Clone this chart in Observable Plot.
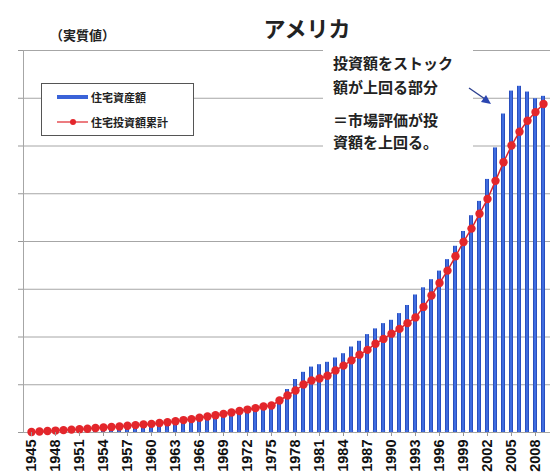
<!DOCTYPE html>
<html><head><meta charset="utf-8">
<script src="https://cdn.jsdelivr.net/npm/d3@7"></script>
<script src="https://cdn.jsdelivr.net/npm/@observablehq/plot@0.6"></script>
<style>
body{margin:0;background:#fff;}
#wrap{position:relative;width:551px;height:476px;font-family:"Noto Sans CJK JP","Noto Sans",sans-serif;color:#222;}
#wrap svg.plot{position:absolute;left:0;top:0;}
.ov{position:absolute;white-space:nowrap;line-height:20px;}
#title{left:0;width:614px;text-align:center;top:17px;font-size:22px;font-weight:700;}
#unit{left:50px;top:25px;font-size:13px;font-weight:700;}
#legend{left:41px;top:83px;width:153px;height:53px;border:1px solid #555;background:#fff;box-sizing:border-box;}
.lg{position:absolute;left:49px;font-size:11px;font-weight:700;line-height:14px;}
#note{left:323px;top:48px;width:150px;height:110px;background:#fff;}
.nl{position:absolute;left:10px;font-size:15px;font-weight:700;line-height:20px;}
</style></head><body>
<div id="wrap"></div>
<script>
const years = [1945,1946,1947,1948,1949,1950,1951,1952,1953,1954,1955,1956,1957,1958,1959,1960,1961,1962,1963,1964,1965,1966,1967,1968,1969,1970,1971,1972,1973,1974,1975,1976,1977,1978,1979,1980,1981,1982,1983,1984,1985,1986,1987,1988,1989,1990,1991,1992,1993,1994,1995,1996,1997,1998,1999,2000,2001,2002,2003,2004,2005,2006,2007,2008,2009];
// 住宅資産額 (bars)
const assetValues = [0.015,0.02,0.025,0.03,0.035,0.04,0.045,0.05,0.06,0.07,0.08,0.09,0.10,0.11,0.12,0.14,0.15,0.17,0.19,0.21,0.23,0.25,0.27,0.30,0.33,0.35,0.38,0.42,0.45,0.48,0.52,0.68,0.90,1.11,1.26,1.37,1.42,1.47,1.56,1.65,1.79,1.91,2.05,2.17,2.28,2.35,2.49,2.66,2.88,3.03,3.20,3.38,3.62,3.90,4.21,4.54,4.84,5.30,5.96,6.67,7.15,7.25,7.13,6.99,7.04];
// 住宅投資額累計 (line)
const cumInvestValues = [0.01,0.02,0.03,0.04,0.05,0.06,0.07,0.08,0.095,0.105,0.115,0.125,0.14,0.155,0.17,0.18,0.2,0.215,0.235,0.26,0.28,0.31,0.335,0.36,0.39,0.42,0.45,0.48,0.51,0.545,0.565,0.67,0.775,0.88,1.005,1.09,1.13,1.19,1.30,1.40,1.51,1.63,1.73,1.86,1.96,2.07,2.17,2.29,2.41,2.63,2.87,3.13,3.39,3.69,3.99,4.27,4.58,4.89,5.27,5.66,6.01,6.30,6.53,6.71,6.88];
const xTickLabels = [1945,1948,1951,1954,1957,1960,1963,1966,1969,1972,1975,1978,1981,1984,1987,1990,1993,1996,1999,2002,2005,2008];
const yTicks = [0,1,2,3,4,5,6,7,8];
const seriesNames = ["住宅資産額","住宅投資額累計"];
const titleText = "アメリカ";
const unitText = "（実質値）";
const noteLines = ["投資額をストック","額が上回る部分","＝市場評価が投","資額を上回る。"];

const data = years.map((year, i) => ({year, asset: assetValues[i], cum: cumInvestValues[i]}));

const svg = Plot.plot({
  width: 551, height: 476,
  marginLeft: 23, marginRight: 1, marginTop: 50, marginBottom: 44,
  style: {background: "transparent", fontFamily: "'Liberation Sans', Arial, sans-serif", color: "#111"},
  x: {type: "band", domain: years, paddingInner: 0.55, paddingOuter: 0.5, label: null},
  y: {domain: [0, 8], label: null},
  marks: [
    Plot.gridY(yTicks, {stroke: "#a6a6a6", strokeOpacity: 1}),
    Plot.axisY(yTicks, {tickSize: 5, tickFormat: () => "", stroke: "#999"}),
    Plot.frame({anchor: "left", stroke: "#a6a6a6"}),
    Plot.barY(data, {x: "year", y: "asset", fill: "url(#barGrad)"}),
    Plot.ruleY([0], {stroke: "#a6a6a6"}),
    Plot.line(data, {x: "year", y: "cum", stroke: "#e0242a", strokeWidth: 1.5}),
    Plot.dot(data, {x: "year", y: "cum", r: 4.2, fill: "#e3262b", stroke: null}),
    Plot.axisX(xTickLabels, {tickRotate: -90, tickSize: 4, tickPadding: 3, fontSize: 14.5, fontWeight: "bold", tickFormat: d => String(d), stroke: "#999", fill: "#111"})
  ]
});
svg.classList.add("plot");
d3.select(svg).insert("defs", ":first-child").html(
  '<linearGradient id="barGrad" x1="0" x2="1" y1="0" y2="0">' +
  '<stop offset="0" stop-color="#1d3fae"/><stop offset="0.5" stop-color="#4b7cf0"/><stop offset="1" stop-color="#1d3fae"/></linearGradient>');

const wrap = document.getElementById("wrap");
wrap.appendChild(svg);

function div(cls, id, html) {
  const d = document.createElement("div");
  d.className = cls; if (id) d.id = id; d.innerHTML = html; wrap.appendChild(d); return d;
}
div("ov", "title", titleText);
div("ov", "unit", unitText);
const lg = div("ov", "legend", "");
lg.innerHTML =
  '<svg width="153" height="53" style="position:absolute;left:0;top:0">' +
  '<rect x="15" y="11" width="31" height="4" fill="#3a63d8"/>' +
  '<line x1="15" x2="46" y1="38" y2="38" stroke="#e0242a" stroke-width="1.2"/>' +
  '<circle cx="31" cy="38" r="3" fill="#e3262b"/></svg>' +
  '<div class="lg" style="top:6px">' + seriesNames[0] + '</div>' +
  '<div class="lg" style="top:31px">' + seriesNames[1] + '</div>';
const note = div("ov", "note", "");
const noteTops = [5, 29, 62, 84];
note.innerHTML = noteLines.map((t, i) => '<div class="nl" style="top:' + noteTops[i] + 'px">' + t + '</div>').join("");

const arrow = document.createElementNS("http://www.w3.org/2000/svg", "svg");
arrow.setAttribute("width", 551); arrow.setAttribute("height", 476);
arrow.style.position = "absolute"; arrow.style.left = "0"; arrow.style.top = "0";
arrow.innerHTML = '<line x1="469" y1="88" x2="485" y2="99" stroke="#2b3f8f" stroke-width="1.4"/>' +
  '<polygon points="491,104 481,102 486,95" fill="#2b45b0"/>';
wrap.appendChild(arrow);
</script>
</body></html>
